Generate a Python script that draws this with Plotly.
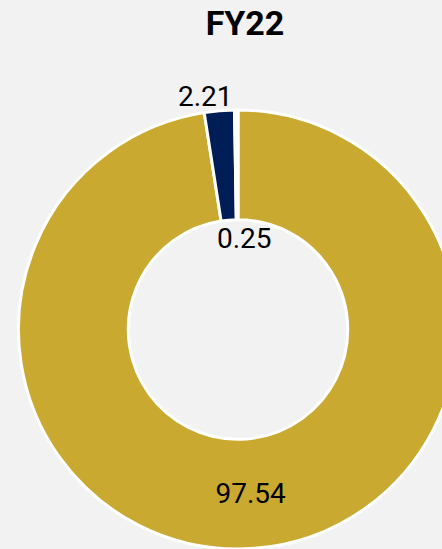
import plotly.graph_objects as go

labels = ["A", "B", "C"]
values = [97.54, 2.21, 0.25]
colors = ["#C9A92F", "#001E55", "#FFFFFF"]
title = "FY22"

W, H = 458, 549
ML, MT = 18, 110
FONT = "Roboto, Lato, sans-serif"

fig = go.Figure(go.Pie(
    labels=labels,
    values=values,
    hole=0.5,
    sort=False,
    direction="clockwise",
    rotation=0,
    marker=dict(colors=colors, line=dict(color="#FFFFFF", width=3)),
    texttemplate=["%{value:.2f}", "", ""],
    textposition=["inside", "none", "none"],
    insidetextorientation="horizontal",
    textfont=dict(family=FONT, size=28, color="#000000"),
    insidetextfont=dict(family=FONT, size=28, color="#000000"),
    showlegend=False,
    hoverinfo="label+value",
))

# labels for the two thin slices
for val, (px, py) in zip(values[1:], [(205, 96), (244, 238)]):
    fig.add_annotation(
        text=f"{val:.2f}", x=(px - ML) / (W - ML), y=(H - py) / (H - MT),
        xref="paper", yref="paper",
        showarrow=False, xanchor="center", yanchor="middle",
        font=dict(family=FONT, size=28, color="#000000"),
    )

fig.update_layout(
    width=W, height=H,
    margin=dict(l=ML, r=0, t=MT, b=0, autoexpand=False),
    paper_bgcolor="#F2F2F2",
    plot_bgcolor="#F2F2F2",
    title=dict(text=f"<b>{title}</b>", x=245 / W, xanchor="center", y=1 - 23 / H, yanchor="middle",
               font=dict(family=FONT, size=34, color="#000000")),
)

fig.write_html("out.html", config={"displayModeBar": False},
               post_script="document.body.style.margin='0';document.body.style.overflow='hidden';")
